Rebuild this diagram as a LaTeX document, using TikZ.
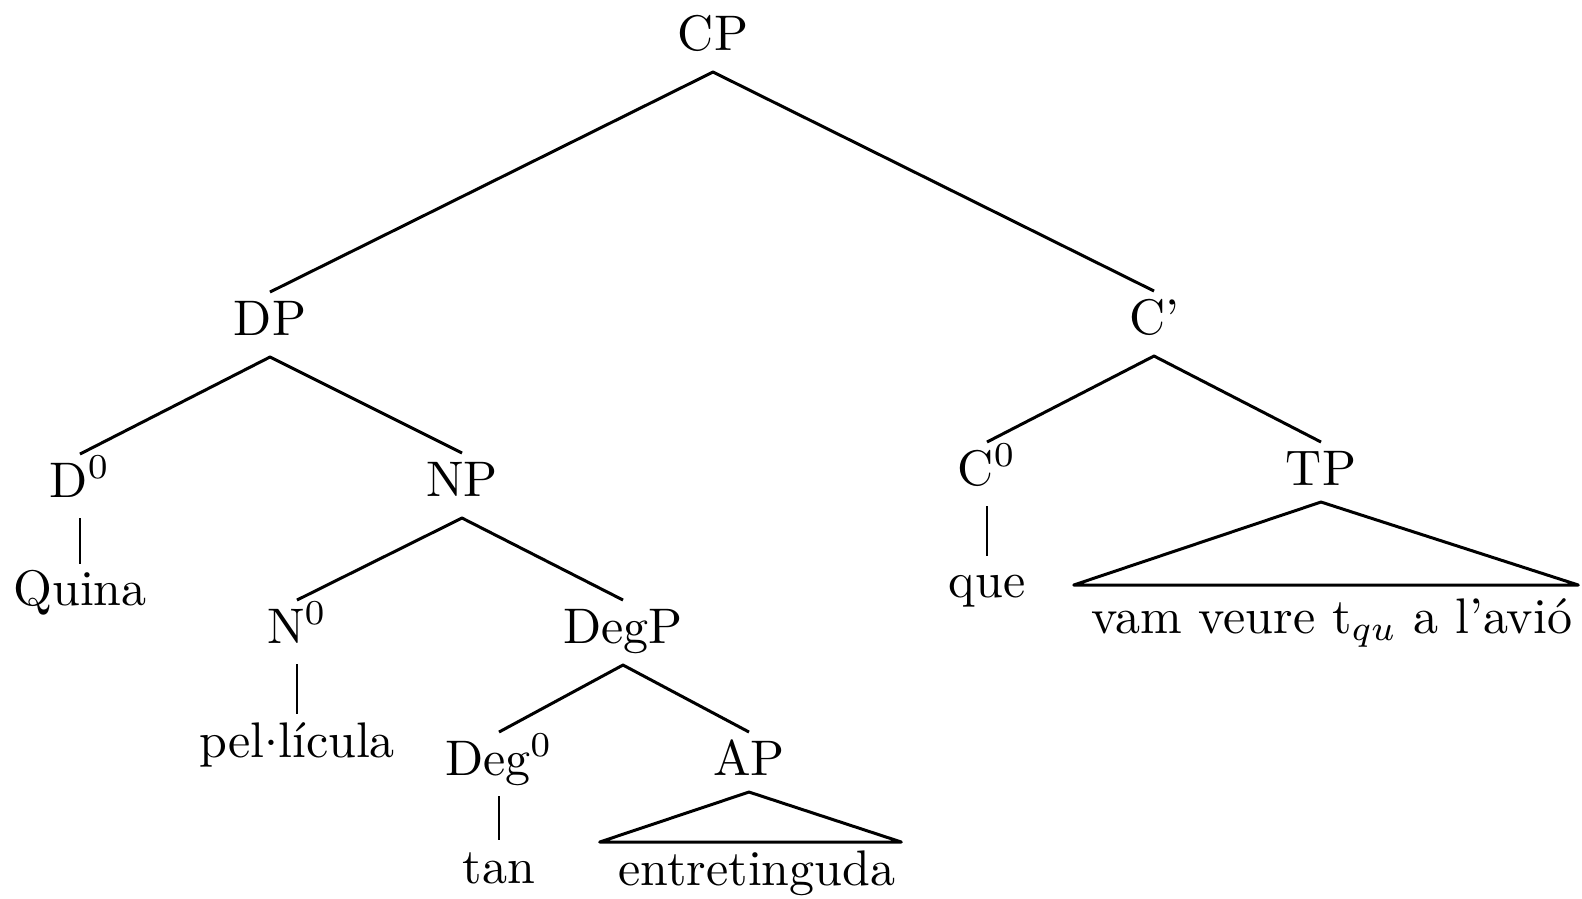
\documentclass[tikz,border=0pt]{standalone}
\begin{document}
\begin{tikzpicture}[x=0.2pt,y=-0.2pt,
  lab/.style={anchor=base,inner sep=0pt,font=\fontsize{10}{12}\selectfont},
  branch/.style={line width=0.6pt,line join=round},
  stem/.style={line width=0.45pt}]
\useasboundingbox (0,0) rectangle (1582,898);
% nodes
\node[lab] (cp) at (713,50) {CP};
\node[lab] (dp) at (270,335) {DP};
\node[lab] (cb) at (1154,334) {C'};
\node[lab] (d0) at (80,497) {D$^0$};
\node[lab] (np) at (462,496) {NP};
\node[lab] (c0) at (987,485) {C$^0$};
\node[lab] (tp) at (1321,485) {TP};
\node[lab] (quina) at (80,605) {Quina};
\node[lab] (n0) at (297,643) {N$^0$};
\node[lab] (degp) at (623,643) {DegP};
\node[lab] (que) at (987,597) {que};
\node[lab] (tpt) at (1332,633) {vam veure t$_{qu}$ a l'avió};
\node[lab] (pel) at (297,757) {pel\raisebox{0.55ex}{.}lícula};
\node[lab] (deg0) at (499,775) {Deg$^0$};
\node[lab] (ap) at (749,775) {AP};
\node[lab] (tan) at (499,883) {tan};
\node[lab] (entre) at (757,885) {entretinguda};
% branches
\draw[branch] ([yshift=8.6pt]dp.base) -- ([yshift=-4.4pt]cp.base) -- ([yshift=8.6pt]cb.base);
\draw[branch] ([yshift=8.6pt]d0.base) -- ([yshift=-4.4pt]dp.base) -- ([yshift=8.6pt]np.base);
\draw[branch] ([yshift=8.6pt]c0.base) -- ([yshift=-4.4pt]cb.base) -- ([yshift=8.6pt]tp.base);
\draw[branch] ([yshift=8.6pt]n0.base) -- ([yshift=-4.4pt]np.base) -- ([yshift=8.6pt]degp.base);
\draw[branch] ([yshift=8.6pt]deg0.base) -- ([yshift=-4.4pt]degp.base) -- ([yshift=8.6pt]ap.base);
% unary stems
\draw[stem] ([yshift=-4.2pt]d0.base) -- ([yshift=8.2pt]quina.base);
\draw[stem] ([yshift=-4.2pt]c0.base) -- ([yshift=8.2pt]que.base);
\draw[stem] ([yshift=-4.2pt]n0.base) -- ([yshift=8.6pt]pel.base);
\draw[stem] ([yshift=-4.2pt]deg0.base) -- ([yshift=8.6pt]tan.base);
% triangles
\draw[branch] ([yshift=-3.4pt]tp.base) -- ([xshift=-3.4pt,yshift=9.6pt]tpt.base west) -- ([xshift=1pt,yshift=9.6pt]tpt.base east) -- cycle;
\draw[branch] ([yshift=-3.4pt]ap.base) -- ([xshift=-3.6pt,yshift=8.6pt]entre.base west) -- ([xshift=1pt,yshift=8.6pt]entre.base east) -- cycle;
\end{tikzpicture}
\end{document}
